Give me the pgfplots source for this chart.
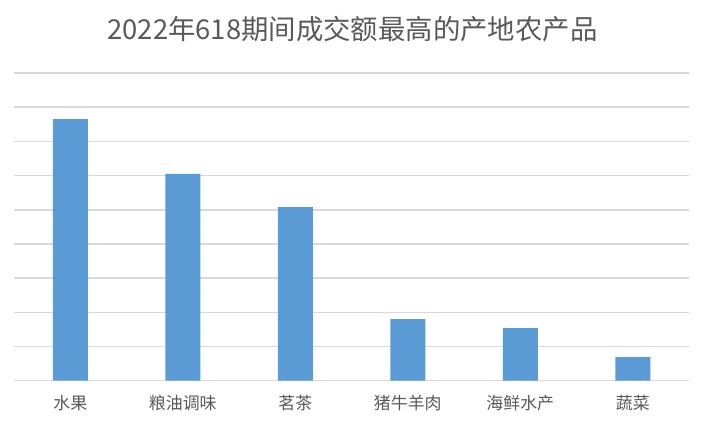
\documentclass[border=0pt]{standalone}
\usepackage{pgfplots}
\pgfplotsset{compat=1.18}
\usepackage{fontspec}
\newfontfamily\cjk{Noto Sans CJK SC}
\definecolor{barblue}{HTML}{5B9BD5}
\definecolor{gridgray}{HTML}{D9D9D9}
\definecolor{textgray}{HTML}{595959}
\begin{document}
\begin{tikzpicture}[x=1bp,y=1bp]
\useasboundingbox (0,0) rectangle (706,426);
\begin{axis}[
  at={(14bp,45.3bp)}, anchor=south west,
  scale only axis, width=675bp, height=307.7bp,
  xmin=-0.5, xmax=5.5, ymin=0, ymax=9,
  axis line style={draw=none},
  major tick style={draw=none},
  ytick={0,1,...,9}, yticklabels={},
  ymajorgrids, grid style={gridgray, line width=1.5bp},
  xtick={0,1,2,3,4,5},
  xticklabels={水果,粮油调味,茗茶,猪牛羊肉,海鲜水产,蔬菜},
  xticklabel style={font=\cjk\fontsize{17}{20}\selectfont, text=textgray, anchor=center, yshift=-22.8bp},
]
\addplot[ybar, bar width=35bp, fill=barblue, draw=none] coordinates {
  (0,7.65) (1,6.05) (2,5.08) (3,1.80) (4,1.54) (5,0.69)
};
\end{axis}
\node[text=textgray, font=\cjk\fontsize{27.5}{32}\selectfont] at (352.5,397)
  {2022年618期间成交额最高的产地农产品};
\end{tikzpicture}
\end{document}
